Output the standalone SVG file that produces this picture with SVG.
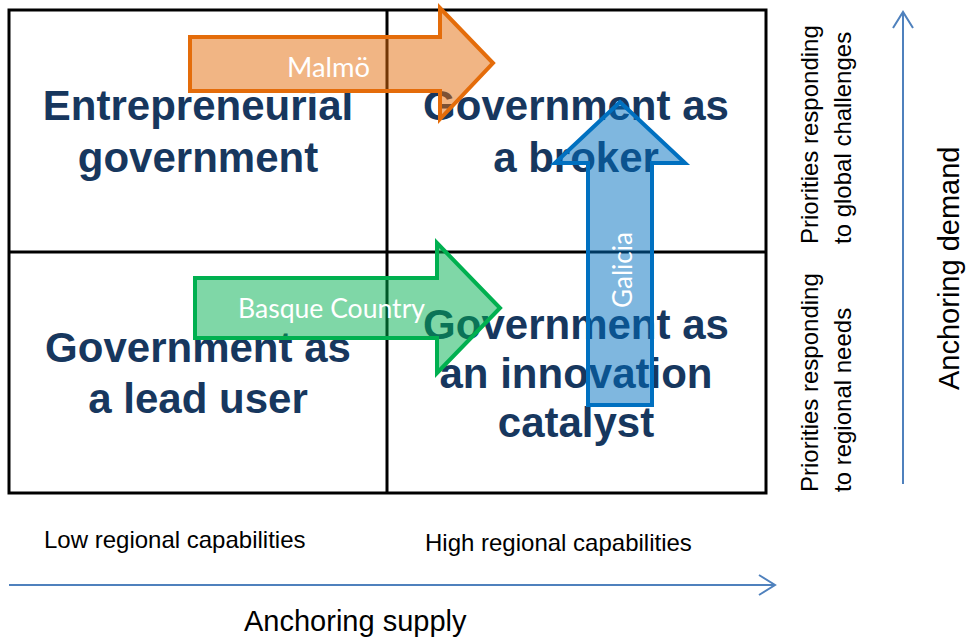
<svg xmlns="http://www.w3.org/2000/svg" width="967" height="639" viewBox="0 0 967 639">
  <style>
    .grid { fill: none; stroke: #000; stroke-width: 3; }
    .quad { font-family: "Liberation Sans", Arial, sans-serif; font-weight: bold; font-size: 42px; fill: #17375E; text-anchor: middle; }
    .lbl { font-family: "Liberation Sans", Arial, sans-serif; font-size: 24px; fill: #000; }
    .axis-title { font-family: "Liberation Sans", Arial, sans-serif; font-size: 29px; fill: #000; }
    .axis { fill: none; stroke: #4F81BD; stroke-width: 2; }
    .tag { font-family: Lato, "Open Sans", sans-serif; font-size: 27px; fill: #fff; }
    .orange { fill: rgba(228,108,10,0.5); stroke: #E46C0A; stroke-width: 4; stroke-linejoin: miter; }
    .green { fill: rgba(0,176,80,0.5); stroke: #00B050; stroke-width: 4; stroke-linejoin: miter; }
    .blue { fill: rgba(0,112,192,0.5); stroke: #0070C0; stroke-width: 4; stroke-linejoin: miter; }
  </style>

  <!-- 2x2 matrix frame -->
  <g id="matrix">
    <rect class="grid" x="9" y="10" width="757" height="483"/>
    <line class="grid" x1="387" y1="10" x2="387" y2="493"/>
    <line class="grid" x1="9" y1="252" x2="766" y2="252"/>
  </g>

  <!-- quadrant nodes -->
  <g id="q-entrepreneurial">
    <text class="quad" x="198" y="120">Entrepreneurial</text>
    <text class="quad" x="198" y="172">government</text>
  </g>
  <g id="q-broker">
    <text class="quad" x="576" y="120">Government as</text>
    <text class="quad" x="576" y="172">a broker</text>
  </g>
  <g id="q-lead-user">
    <text class="quad" x="198" y="362">Government as</text>
    <text class="quad" x="198" y="413">a lead user</text>
  </g>
  <g id="q-catalyst">
    <text class="quad" x="576" y="339">Government as</text>
    <text class="quad" x="576" y="388">an innovation</text>
    <text class="quad" x="576" y="437">catalyst</text>
  </g>

  <!-- region trajectories -->
  <g id="connectors">
    <g id="malmo">
      <path class="orange" d="M190 37 H440 V8 L493 63 L440 119 V91 H190 Z"/>
      <text class="tag" x="287" y="77" textLength="83" lengthAdjust="spacingAndGlyphs">Malmö</text>
    </g>
    <g id="basque">
      <path class="green" d="M195 278 H437 V243 L500 308 L437 373 V338 H195 Z"/>
      <text class="tag" x="238" y="318" textLength="187" lengthAdjust="spacingAndGlyphs">Basque Country</text>
    </g>
    <g id="galicia">
      <path class="blue" d="M588 405 V163 H555 L620 102 L685 163 H652 V405 Z"/>
      <text class="tag" transform="translate(632,308) rotate(-90)" x="0" y="0" textLength="76" lengthAdjust="spacingAndGlyphs">Galicia</text>
    </g>
  </g>

  <!-- axes -->
  <g id="axis-supply">
    <line class="axis" x1="9" y1="585" x2="775" y2="585"/>
    <polyline class="axis" points="759,575 775,585 759,595"/>
    <text class="lbl" x="44" y="548">Low regional capabilities</text>
    <text class="lbl" x="425" y="551">High regional capabilities</text>
    <text class="axis-title" x="244" y="631">Anchoring supply</text>
  </g>
  <g id="axis-demand">
    <line class="axis" x1="903" y1="484" x2="903" y2="12"/>
    <polyline class="axis" points="893,28 903,12 913,28"/>
    <text class="lbl" transform="translate(818,244) rotate(-90)">Priorities responding</text>
    <text class="lbl" transform="translate(851,244) rotate(-90)">to global challenges</text>
    <text class="lbl" transform="translate(818,492) rotate(-90)">Priorities responding</text>
    <text class="lbl" transform="translate(851,492) rotate(-90)">to regional needs</text>
    <text class="axis-title" transform="translate(959,390) rotate(-90)">Anchoring demand</text>
  </g>
</svg>
